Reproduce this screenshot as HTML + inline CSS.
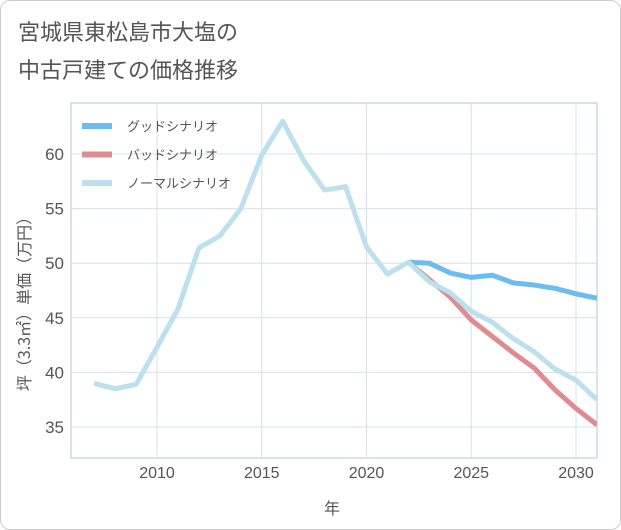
<!DOCTYPE html>
<html><head><meta charset="utf-8"><style>
body{margin:0;background:#fff;font-family:"Liberation Sans","Noto Sans CJK JP",sans-serif;}
#wrap{position:relative;width:619px;height:528px;border:1px solid #ccc;border-radius:10px;overflow:hidden;background:#fff}
</style></head><body>
<div id="wrap">
<svg id="chart" width="621" height="530" style="position:absolute;left:-1px;top:-1px">
<text x="18" y="40" font-size="22" fill="#555" font-family="Liberation Sans,Noto Sans CJK JP,sans-serif">宮城県東松島市大塩の</text>
<text x="18" y="78" font-size="22" fill="#555" font-family="Liberation Sans,Noto Sans CJK JP,sans-serif">中古戸建ての価格推移</text>
<g id="grid"></g><g id="series"></g><g id="axes"></g>
<text x="332" y="514" font-size="16" fill="#555" text-anchor="middle" font-family="Noto Sans CJK JP,sans-serif">年</text>
<text transform="translate(30,300) rotate(-90)" font-size="16" fill="#555" text-anchor="middle" font-family="Noto Sans CJK JP,sans-serif">坪（3.3㎡）単価（万円）</text>
<g id="legend"></g>
</svg>
</div>
<script>
const years=[2007,2008,2009,2010,2011,2012,2013,2014,2015,2016,2017,2018,2019,2020,2021,2022,2023,2024,2025,2026,2027,2028,2029,2030,2031];
const normalValues=[39,38.5,38.9,42.3,45.8,51.4,52.5,55,59.9,63,59.4,56.7,57,51.5,49,50.1,48.3,47.3,45.6,44.6,43.1,41.9,40.3,39.3,37.5];
const futureYears=[2022,2023,2024,2025,2026,2027,2028,2029,2030,2031];
const goodValues=[50.1,50,49.1,48.7,48.9,48.2,48,47.7,47.2,46.8];
const badValues=[50.1,48.5,46.9,44.8,43.3,41.8,40.4,38.4,36.7,35.2];
const xTicks=[2010,2015,2020,2025,2030];
const yTicks=[35,40,45,50,55,60];
const L=71,R=597,T=103,B=458;
const x=v=>157+(v-2010)*20.95;
const y=v=>154+(60-v)*10.92;
const NS="http://www.w3.org/2000/svg";
function mk(tag,parent){const e=document.createElementNS(NS,tag);document.getElementById(parent).appendChild(e);return e;}
let f=mk('rect','grid');f.setAttribute('x',L);f.setAttribute('y',T);f.setAttribute('width',R-L);f.setAttribute('height',B-T);f.setAttribute('fill','#fff');f.setAttribute('stroke','#b8c4cf');


xTicks.forEach(t=>{const l=mk('line','grid');l.setAttribute('x1',x(t));l.setAttribute('x2',x(t));l.setAttribute('y1',T);l.setAttribute('y2',B);l.setAttribute('stroke','#d5e0ea');


const s=mk('text','axes');s.textContent=t;s.setAttribute('x',x(t));s.setAttribute('y',478);s.setAttribute('text-anchor','middle');s.setAttribute('font-size','16');s.setAttribute('fill','#555');

});
yTicks.forEach(t=>{const l=mk('line','grid');l.setAttribute('x1',L);l.setAttribute('x2',R);l.setAttribute('y1',y(t));l.setAttribute('y2',y(t));l.setAttribute('stroke','#d5e0ea');


const s=mk('text','axes');s.textContent=t;s.setAttribute('x',64);s.setAttribute('y',y(t)+6);s.setAttribute('text-anchor','end');s.setAttribute('font-size','17');s.setAttribute('fill','#555');

});
function line(xs,vs,color,name){const p=mk('polyline','series');p.setAttribute('points',xs.map((v,i)=>x(v)+','+y(vs[i])).join(' '));p.setAttribute('fill','none');p.setAttribute('stroke',color);p.setAttribute('stroke-width','5');p.setAttribute('stroke-linejoin','round');

}
const cp=mk('clipPath','series');cp.id='clip';const cr=document.createElementNS(NS,'rect');cr.setAttribute('x',L);cr.setAttribute('y',T);cr.setAttribute('width',R-L);cr.setAttribute('height',B-T);cp.appendChild(cr);
document.getElementById('series').setAttribute('clip-path','url(#clip)');
line(futureYears,goodValues,'#6bbcf0','good-scenario-line');
line(futureYears,badValues,'#e08a92','bad-scenario-line');
line(years,normalValues,'#bde0ee','normal-scenario-line');
[['グッドシナリオ','#6bbcf0','legend-good'],['バッドシナリオ','#e08a92','legend-bad'],['ノーマルシナリオ','#bde0ee','legend-normal']].forEach((d,i)=>{
const yy=126+i*28.5;const r=mk('rect','legend');r.setAttribute('x',82);r.setAttribute('y',yy-3);r.setAttribute('width',30);r.setAttribute('height',6);r.setAttribute('fill',d[1]);


const s=mk('text','legend');s.textContent=d[0];s.setAttribute('x',127);s.setAttribute('y',yy+5);s.setAttribute('font-size','13');s.setAttribute('fill','#555');

});
</script>
</body></html>
